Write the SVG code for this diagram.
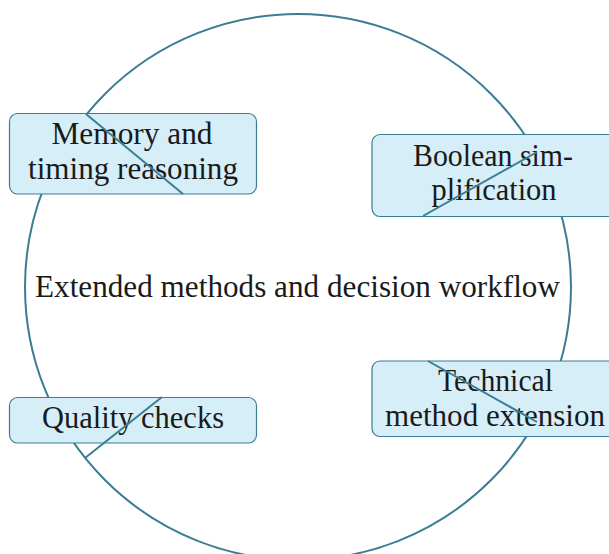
<svg xmlns="http://www.w3.org/2000/svg" width="609" height="554" viewBox="0 0 609 554">
<style>
.box{fill:#d6eef8;stroke:#3b7d93;stroke-width:1.2}
.t{font-family:"Liberation Serif","DejaVu Serif",serif;font-size:31px;fill:#1a1a1a;text-anchor:middle}
.ln{stroke:#3b7d93;stroke-width:2;fill:none}
</style>
<rect width="609" height="554" fill="#ffffff"/>
<g id="cycle">
<circle class="ln" cx="298" cy="287" r="273"/>
<text class="t" x="297.5" y="297" textLength="525" lengthAdjust="spacingAndGlyphs">Extended methods and decision workflow</text>
</g>
<g id="memory">
<rect class="box" x="9.5" y="113.5" width="247" height="80.5" rx="8"/>
<text class="t" x="132" y="144" textLength="161" lengthAdjust="spacingAndGlyphs">Memory and</text>
<text class="t" x="133" y="179" textLength="210" lengthAdjust="spacingAndGlyphs">timing reasoning</text>
</g>
<g id="boolean">
<rect class="box" x="372" y="134.5" width="246" height="82" rx="8"/>
<text class="t" x="493" y="166" textLength="160" lengthAdjust="spacingAndGlyphs">Boolean sim-</text>
<text class="t" x="494" y="200" textLength="125" lengthAdjust="spacingAndGlyphs">plification</text>
</g>
<g id="quality">
<rect class="box" x="9.5" y="397.5" width="247" height="45.5" rx="8"/>
<text class="t" x="133" y="428" textLength="182" lengthAdjust="spacingAndGlyphs">Quality checks</text>
</g>
<g id="technical">
<rect class="box" x="372" y="361" width="246" height="75.5" rx="8"/>
<text class="t" x="495.5" y="391" textLength="115" lengthAdjust="spacingAndGlyphs">Technical</text>
<text class="t" x="495" y="426" textLength="220" lengthAdjust="spacingAndGlyphs">method extension</text>
</g>
<g id="connectors">
<line class="ln" x1="86" y1="114" x2="183" y2="194"/>
<line class="ln" x1="423" y1="216" x2="537" y2="152"/>
<line class="ln" x1="85" y1="458" x2="162" y2="397"/>
<line class="ln" x1="428" y1="361" x2="537" y2="422"/>
</g>
</svg>
